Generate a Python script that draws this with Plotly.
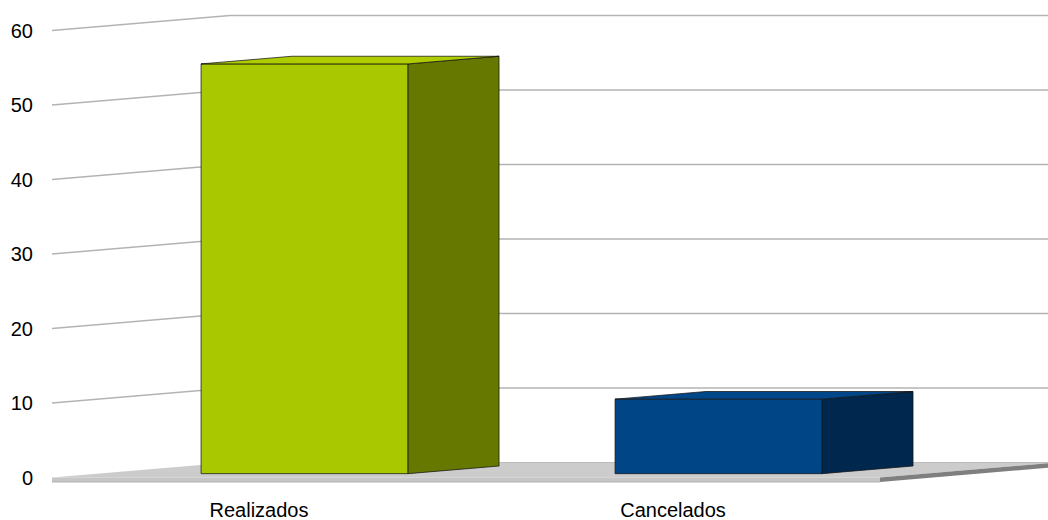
import plotly.graph_objects as go

# --- data ---
categories = ["Realizados", "Cancelados"]
values = [55, 10]
tick_values = [0, 10, 20, 30, 40, 50, 60]

# --- styling ---
front_colors = ["#a9c800", "#004586"]
side_colors = ["#667800", "#00284f"]
top_colors = ["#afcc00", "#00478a"]
edge_color = "rgba(20,20,20,0.75)"
grid_color = "#b3b3b3"
font = dict(family="Liberation Sans, Arial, sans-serif", size=20, color="#000000")

# --- geometry of the pseudo-3D box (axis units) ---
W, H = 1048, 520
M_L, M_B = 52, 30
PX_X = 414.0          # pixels per category slot
PX_Y = 7.45           # pixels per value unit
Y0_PX = 477.5         # pixel row of the zero line on the front plane
DX = 178 / PX_X       # full depth, horizontal shift
DY = 15 / PX_Y        # full depth, vertical shift
FRONT, BACK = 0.256, 0.767  # depth span occupied by the bars
HALF = 0.25           # half bar width
FLOOR_T = 0.6         # floor slab thickness

x_max = (W - M_L) / PX_X
y_max = Y0_PX / PX_Y
y_min = -(H - M_B - Y0_PX) / PX_Y
n = len(categories)


def path(points):
    return "M " + " L ".join(f"{x},{y}" for x, y in points) + " Z"


shapes = []
# left wall and back wall grid lines
for v in tick_values[1:]:
    shapes.append(dict(type="line", x0=0, y0=v, x1=DX, y1=v + DY,
                       line=dict(color=grid_color, width=1.3), layer="below"))
    shapes.append(dict(type="line", x0=DX, y0=v + DY, x1=x_max, y1=v + DY,
                       line=dict(color=grid_color, width=1.3), layer="below"))

# floor slab: top surface, front edge and right edge
shapes.append(dict(type="path", layer="below", line=dict(width=0),
                   fillcolor="#cccccc",
                   path=path([(0, 0), (n, 0), (n + DX, DY), (DX, DY)])))
shapes.append(dict(type="path", layer="below", line=dict(width=0),
                   fillcolor="#c6c6c6",
                   path=path([(0, 0), (n, 0), (n, -FLOOR_T), (0, -FLOOR_T)])))
shapes.append(dict(type="line", x0=0, y0=-FLOOR_T, x1=n, y1=-FLOOR_T,
                   line=dict(color="#b0b0b0", width=1), layer="below"))
shapes.append(dict(type="line", x0=DX, y0=DY, x1=x_max, y1=DY,
                   line=dict(color="#bdbdbd", width=1), layer="below"))
shapes.append(dict(type="path", layer="below", line=dict(width=0),
                   fillcolor="#7f7f7f",
                   path=path([(n, 0), (n + DX, DY), (n + DX, DY - FLOOR_T),
                              (n, -FLOOR_T)])))

fig = go.Figure()

# front faces of the bars
centers = [i + 0.5 for i in range(n)]
fig.add_trace(go.Bar(
    x=[c + FRONT * DX for c in centers],
    y=values,
    base=[FRONT * DY] * n,
    width=2 * HALF,
    marker=dict(color=front_colors, line=dict(color=edge_color, width=1)),
    hoverinfo="skip",
    showlegend=False,
))

# side and top faces, projected from the same values
for c, v, sc, tc in zip(centers, values, side_colors, top_colors):
    xl_f, xr_f = c - HALF + FRONT * DX, c + HALF + FRONT * DX
    xl_b, xr_b = c - HALF + BACK * DX, c + HALF + BACK * DX
    b_f, b_b = FRONT * DY, BACK * DY
    side = [(xr_f, b_f), (xr_b, b_b), (xr_b, b_b + v), (xr_f, b_f + v), (xr_f, b_f)]
    top = [(xl_f, b_f + v), (xr_f, b_f + v), (xr_b, b_b + v), (xl_b, b_b + v),
           (xl_f, b_f + v)]
    for pts, col in ((side, sc), (top, tc)):
        fig.add_trace(go.Scatter(
            x=[p[0] for p in pts], y=[p[1] for p in pts],
            mode="lines", fill="toself", fillcolor=col,
            line=dict(color=edge_color, width=1),
            hoverinfo="skip", showlegend=False,
        ))

fig.update_layout(
    width=W, height=H,
    margin=dict(l=M_L, r=0, t=0, b=M_B, pad=0, autoexpand=False),
    paper_bgcolor="white", plot_bgcolor="white",
    font=font,
    shapes=shapes,
    xaxis=dict(range=[0, x_max], tickvals=centers, ticktext=categories,
               showgrid=False, zeroline=False, showline=False, automargin=False,
               ticks="", ticklabelstandoff=6, fixedrange=True),
    yaxis=dict(range=[y_min, y_max], tickvals=tick_values,
               showgrid=False, zeroline=False, showline=False, automargin=False,
               ticks="", ticklabelstandoff=18, fixedrange=True),
    showlegend=False,
)

fig.write_html("out.html", config=dict(displayModeBar=False))
